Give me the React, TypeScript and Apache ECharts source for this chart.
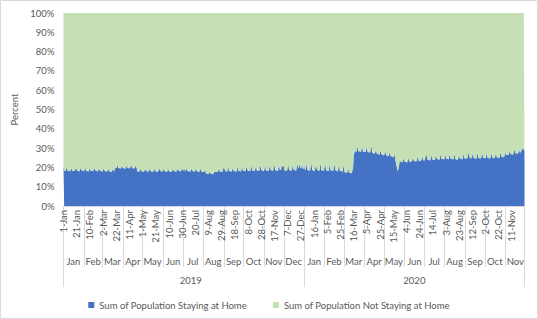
import React, { useEffect, useRef } from "react";
import * as echarts from "echarts";

// Share of population staying at home (%), daily, 1-Jan-2019 .. 31-Dec-2019
const home2019: number[] = [
  20.6, 18.5, 18.2, 18.0, 19.3, 19.9,
  18.4, 18.2, 18.3, 18.1, 17.9, 19.1, 19.7,
  18.3, 18.4, 18.2, 18.0, 18.1, 19.2, 19.8,
  18.9, 18.3, 18.1, 18.2, 17.9, 19.0, 19.6,
  18.5, 18.6, 18.4, 18.2, 18.0, 19.1, 19.9,
  18.2, 18.3, 18.1, 18.2, 17.8, 18.9, 19.5,
  18.4, 18.2, 18.3, 18.0, 17.9, 19.0, 19.7,
  18.7, 18.3, 18.2, 18.1, 17.8, 19.1, 19.6,
  18.3, 18.2, 18.1, 18.0, 17.7, 18.8, 19.4,
  18.2, 18.1, 18.0, 17.9, 17.8, 18.7, 19.3,
  18.1, 18.0, 17.9, 17.8, 17.6, 18.6, 19.2,
  17.9, 17.8, 19.8, 19.9, 19.6, 20.6, 21.2,
  19.7, 19.8, 19.6, 19.5, 19.4, 20.4, 21.0,
  19.6, 19.7, 19.5, 19.6, 19.3, 20.3, 20.9,
  19.8, 19.6, 19.7, 19.5, 19.4, 20.6, 21.4,
  19.7, 19.5, 19.6, 19.4, 19.8, 20.5, 21.6,
  19.5, 18.0, 17.9, 17.8, 17.7, 18.6, 19.2,
  18.1, 18.0, 17.9, 17.8, 17.7, 18.7, 19.3,
  18.2, 18.1, 18.0, 17.9, 17.8, 18.8, 19.4,
  18.0, 18.1, 17.9, 17.8, 17.7, 18.6, 19.3,
  18.1, 17.9, 18.0, 17.8, 17.6, 18.5, 19.2,
  19.0, 18.2, 18.0, 17.9, 17.8, 18.7, 19.3,
  18.1, 18.0, 17.9, 17.8, 17.7, 18.6, 19.2,
  18.0, 18.1, 17.9, 17.8, 17.6, 18.7, 19.3,
  18.2, 18.1, 18.0, 17.9, 17.8, 18.8, 19.4,
  18.3, 18.2, 18.1, 18.0, 17.9, 18.9, 19.5,
  18.2, 18.3, 19.6, 18.4, 18.0, 18.9, 19.6,
  18.1, 18.2, 18.0, 17.9, 17.8, 18.8, 19.4,
  18.2, 18.1, 18.0, 17.9, 17.8, 18.9, 19.5,
  18.0, 18.1, 17.9, 17.8, 17.7, 18.7, 19.3,
  17.9, 17.8, 17.7, 17.6, 17.5, 18.4, 19.0,
  16.9, 16.8, 16.7, 16.6, 16.5, 17.4, 17.9,
  16.8, 16.7, 16.6, 16.7, 16.5, 17.3, 17.8,
  17.6, 17.7, 17.8, 17.7, 17.6, 18.8, 19.6,
  17.9, 18.0, 17.9, 17.8, 17.7, 19.0, 19.9,
  19.5, 18.2, 18.0, 17.9, 17.8, 19.2, 20.2,
  18.1, 18.2, 18.0, 17.9, 17.8, 19.1, 20.0,
  18.2, 18.1, 18.0, 17.9, 17.8, 19.2, 20.3,
  18.3, 18.2, 18.1, 18.0, 17.9, 19.3, 20.4,
  18.4, 18.3, 18.2, 18.1, 18.0, 19.5, 20.7,
  18.5, 18.4, 18.3, 18.2, 18.1, 19.6, 20.9,
  18.6, 18.4, 18.3, 18.2, 18.0, 19.7, 21.0,
  18.5, 18.3, 18.4, 18.2, 18.1, 19.8, 21.2,
  18.6, 18.5, 18.3, 18.2, 18.0, 19.7, 21.1,
  18.5, 18.4, 18.3, 18.2, 18.1, 19.8, 21.3,
  18.7, 18.5, 18.4, 18.3, 18.2, 19.9, 21.4,
  18.6, 18.5, 18.3, 18.2, 18.1, 19.8, 21.2,
  18.5, 18.6, 18.9, 21.8, 20.2, 20.1, 21.0,
  18.6, 18.4, 18.3, 18.2, 18.1, 19.8, 21.8,
  18.7, 18.5, 18.4, 18.3, 18.2, 20.0, 22.0,
  18.8, 18.6, 18.5, 18.4, 18.3, 20.1, 22.1,
  19.3, 20.3, 21.9, 19.9, 19.6, 20.4, 21.6,
  19.2, 19.4,
];

// Share of population staying at home (%), daily, 1-Jan-2020 .. 30-Nov-2020
const home2020: number[] = [
  21.5, 18.9, 18.6, 20.4, 22.0,
  18.7, 18.5, 18.4, 18.3, 18.2, 20.3, 22.1,
  18.6, 18.5, 18.4, 18.3, 18.1, 20.2, 22.0,
  19.4, 18.6, 18.4, 18.3, 18.2, 20.4, 22.3,
  18.7, 18.5, 18.4, 18.2, 18.1, 20.3, 22.2,
  18.6, 18.4, 18.3, 18.2, 18.0, 20.1, 22.5,
  18.5, 18.4, 18.3, 18.1, 18.0, 20.0, 21.9,
  18.9, 18.4, 18.2, 18.1, 17.9, 19.9, 21.6,
  18.3, 18.2, 18.1, 18.0, 17.8, 19.6, 21.2,
  17.6, 17.5, 17.4, 17.3, 17.2, 18.6, 19.3,
  17.4, 17.3, 17.2, 17.1, 17.0, 18.4, 19.2,
  26.5, 27.6, 28.2, 28.4, 28.1, 29.6, 30.8,
  28.3, 28.5, 28.4, 28.2, 28.0, 29.7, 31.0,
  28.2, 28.3, 28.1, 28.0, 27.9, 29.5, 30.6,
  28.0, 28.1, 27.9, 27.8, 27.7, 29.4, 31.5,
  27.6, 27.5, 27.3, 27.2, 27.0, 28.5, 29.2,
  27.1, 27.0, 26.9, 26.8, 26.6, 28.0, 28.7,
  26.8, 26.7, 26.5, 26.4, 26.2, 27.6, 28.2,
  26.4, 26.3, 26.1, 26.0, 25.8, 27.1, 27.8,
  26.0, 25.8, 25.6, 25.4, 25.1, 26.5, 27.1,
  24.0, 22.5, 20.8, 19.2, 18.0, 19.8, 21.4,
  24.5, 22.9, 22.8, 22.7, 22.6, 23.9, 24.8,
  23.0, 22.9, 22.8, 22.7, 22.6, 24.0, 25.0,
  23.2, 23.1, 23.0, 22.9, 22.8, 24.3, 25.3,
  23.4, 23.3, 23.2, 23.1, 23.0, 24.5, 25.6,
  23.6, 23.5, 23.4, 23.3, 23.2, 24.8, 25.9,
  23.8, 23.7, 23.6, 23.9, 25.8, 26.2, 26.4,
  24.0, 23.9, 23.8, 23.7, 23.6, 25.2, 26.4,
  24.2, 24.1, 24.0, 23.9, 23.8, 25.4, 26.6,
  24.4, 24.3, 24.2, 24.1, 24.0, 25.6, 26.8,
  24.5, 24.4, 24.3, 24.2, 24.1, 25.7, 27.0,
  24.6, 24.5, 24.4, 24.3, 24.2, 25.8, 27.1,
  24.5, 24.4, 24.3, 24.2, 24.1, 25.7, 27.0,
  24.3, 24.2, 24.1, 24.0, 23.9, 25.5, 26.8,
  24.6, 24.5, 24.4, 24.3, 24.2, 25.9, 27.3,
  24.8, 24.7, 24.6, 24.5, 24.6, 26.2, 27.5,
  26.5, 24.9, 24.8, 24.7, 24.6, 26.3, 27.7,
  24.9, 24.8, 24.7, 24.6, 24.5, 26.2, 27.6,
  25.0, 24.9, 24.8, 24.7, 24.6, 26.4, 27.8,
  25.1, 25.0, 24.9, 24.8, 24.7, 26.3, 27.5,
  25.0, 24.9, 24.8, 24.7, 24.6, 26.2, 27.4,
  25.2, 25.0, 24.9, 24.8, 24.7, 26.4, 27.6,
  25.3, 25.1, 25.0, 24.9, 24.8, 26.5, 27.8,
  25.6, 25.5, 25.4, 25.3, 25.2, 26.9, 28.2,
  26.2, 26.4, 26.6, 26.5, 26.4, 27.9, 29.0,
  27.0, 26.8, 26.7, 26.6, 26.5, 28.2, 29.4,
  27.4, 27.3, 27.2, 27.1, 27.0, 28.6, 29.8,
  27.6, 27.8, 28.3, 30.6, 29.4, 29.2, 29.9,
  28.1,
];

const years: string[] = ["2019", "2020"];
const monthNames: string[] = ["Jan", "Feb", "Mar", "Apr", "May", "Jun", "Jul", "Aug", "Sep", "Oct", "Nov", "Dec"];
const daysInMonth2019: number[] = [31, 28, 31, 30, 31, 30, 31, 31, 30, 31, 30, 31];
const daysInMonth2020: number[] = [31, 29, 31, 30, 31, 30, 31, 31, 30, 31, 30];
const seriesNames: string[] = ["Sum of Population Staying at Home", "Sum of Population Not Staying at Home"];
const yTicks: number[] = [0, 10, 20, 30, 40, 50, 60, 70, 80, 90, 100];

// Build the category structure (day, month, year) from the calendar
const dayLabels: string[] = [];
const monthOfDay: string[] = [];
const yearOfDay: string[] = [];
const monthStarts = new Set<number>();
const monthMids = new Set<number>();
const yearStarts = new Set<number>();
[daysInMonth2019, daysInMonth2020].forEach((dims, yi) => {
  yearStarts.add(dayLabels.length);
  dims.forEach((n, mi) => {
    const start = dayLabels.length;
    monthStarts.add(start);
    monthMids.add(start + Math.floor(n / 2));
    for (let d = 1; d <= n; d++) {
      dayLabels.push(`${d}-${monthNames[mi]}`);
      monthOfDay.push(monthNames[mi]);
      yearOfDay.push(years[yi]);
    }
  });
});
const lastIdx = dayLabels.length - 1;
yearStarts.add(lastIdx);
monthStarts.add(lastIdx);
const yearLabelIdx = new Set<number>([193, 532]);

const homeValues = [...home2019, ...home2020];
const notHomeValues = homeValues.map((v) => +(100 - v).toFixed(1));

const FONT = "Lato, 'Liberation Sans', sans-serif";
const TXT = "#595959";
const SEP = "#d9d9d9";

export default function App() {
  const ref = useRef<HTMLDivElement>(null);
  useEffect(() => {
    if (!ref.current) return;
    const chart = echarts.init(ref.current, undefined, { renderer: "svg" });
    const baseAxis = {
      type: "category" as const,
      gridIndex: 0,
      position: "bottom" as const,
      boundaryGap: false,
    };
    chart.setOption({
      animation: false,
      textStyle: { fontFamily: FONT },
      graphic: [
        {
          type: "rect",
          shape: { x: 0.5, y: 0.5, width: 537, height: 318 },
          style: { fill: "none", stroke: SEP, lineWidth: 1 },
          silent: true,
        },
      ],
      grid: { left: 63.5, right: 13.5, top: 13, bottom: 113, containLabel: false },
      legend: {
        data: seriesNames,
        top: 295,
        left: "center",
        icon: "rect",
        itemWidth: 6,
        itemHeight: 6,
        itemGap: 26,
        textStyle: { fontFamily: FONT, fontSize: 9.5, color: TXT },
      },
      xAxis: [
        {
          ...baseAxis,
          data: dayLabels,
          axisLine: { show: true, lineStyle: { color: SEP } },
          axisTick: {
            show: true,
            interval: (i: number) => monthStarts.has(i),
            length: 61,
            lineStyle: { color: SEP },
          },
          axisLabel: {
            interval: 19,
            rotate: 90,
            margin: 4,
            fontFamily: FONT,
            fontSize: 9.5,
            color: TXT,
          },
          splitLine: { show: false },
        },
        {
          ...baseAxis,
          data: monthOfDay,
          axisLine: { show: false },
          axisTick: { show: false },
          axisLabel: {
            interval: (i: number) => monthMids.has(i),
            margin: 50,
            fontFamily: FONT,
            fontSize: 9.5,
            color: TXT,
          },
          splitLine: { show: false },
        },
        {
          ...baseAxis,
          data: yearOfDay,
          axisLine: { show: false },
          axisTick: {
            show: true,
            interval: (i: number) => yearStarts.has(i),
            length: 81,
            lineStyle: { color: SEP },
          },
          axisLabel: {
            interval: (i: number) => yearLabelIdx.has(i),
            margin: 69,
            fontFamily: FONT,
            fontSize: 9.5,
            color: TXT,
          },
          splitLine: { show: false },
        },
      ],
      yAxis: {
        type: "value",
        min: yTicks[0],
        max: yTicks[yTicks.length - 1],
        interval: 10,
        name: "Percent",
        nameLocation: "middle",
        nameGap: 37,
        nameTextStyle: { fontFamily: FONT, fontSize: 9.5, color: TXT },
        axisLine: { show: false },
        axisTick: { show: false },
        splitLine: { show: false },
        axisLabel: {
          formatter: "{value}%",
          margin: 9,
          fontFamily: FONT,
          fontSize: 9.5,
          color: TXT,
        },
      },
      series: [
        {
          name: seriesNames[0],
          type: "line",
          stack: "total",
          data: homeValues,
          xAxisIndex: 0,
          symbol: "none",
          sampling: undefined,
          lineStyle: { width: 0 },
          areaStyle: { color: "#4472C4", opacity: 1 },
          itemStyle: { color: "#4472C4" },
        },
        {
          name: seriesNames[1],
          type: "line",
          stack: "total",
          data: notHomeValues,
          xAxisIndex: 0,
          symbol: "none",
          lineStyle: { width: 0 },
          areaStyle: { color: "#C5E0B4", opacity: 1 },
          itemStyle: { color: "#C5E0B4" },
        },
      ],
    });
    return () => chart.dispose();
  }, []);
  return (
    <div
      ref={ref}
      style={{ position: "fixed", left: 0, top: 0, width: 538, height: 319, background: "#fff" }}
    />
  );
}
